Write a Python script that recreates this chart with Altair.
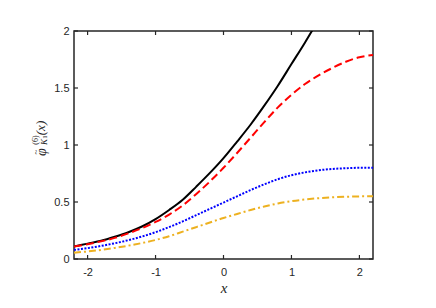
import altair as alt
import pandas as pd

# x sample points
xs = [-2.2, -2.0, -1.8, -1.6, -1.4, -1.2, -1.0, -0.8, -0.6, -0.4, -0.2, 0.0,
      0.2, 0.4, 0.6, 0.8, 1.0, 1.2, 1.4, 1.6, 1.8, 2.0, 2.2]
# series values
black = [0.11, 0.135, 0.16, 0.195, 0.235, 0.285, 0.35, 0.43, 0.52, 0.635, 0.755, 0.885,
         1.03, 1.18, 1.345, 1.52, 1.71, 1.90, 2.10, 2.30, 2.50, 2.70, 2.90]
red = [0.11, 0.13, 0.155, 0.185, 0.225, 0.27, 0.325, 0.39, 0.47, 0.57, 0.68, 0.80,
       0.93, 1.065, 1.20, 1.33, 1.44, 1.535, 1.61, 1.675, 1.73, 1.77, 1.79]
blue = [0.08, 0.095, 0.115, 0.138, 0.165, 0.197, 0.235, 0.28, 0.33, 0.385, 0.44, 0.495,
        0.55, 0.605, 0.655, 0.70, 0.735, 0.76, 0.778, 0.79, 0.796, 0.80, 0.80]
orange = [0.055, 0.066, 0.08, 0.097, 0.117, 0.14, 0.167, 0.20, 0.24, 0.28, 0.32, 0.36,
          0.395, 0.43, 0.46, 0.487, 0.507, 0.522, 0.533, 0.541, 0.546, 0.549, 0.55]

xticks = [-2, -1, 0, 1, 2]
yticks = [0, 0.5, 1, 1.5, 2]

W, H = 299, 228
AX = "#262626"
SERIF = "Liberation Serif"

series = [
    ("black", black, "#000000", []),
    ("red", red, "#FF0000", [8, 4]),
    ("blue", blue, "#0000FF", [2, 1.5]),
    ("orange", orange, "#EDB120", [7, 3, 2, 3]),
]

xscale = alt.Scale(domain=[-2.2, 2.2], nice=False, zero=False)
yscale = alt.Scale(domain=[0, 2], nice=False, zero=False)

xaxis = alt.Axis(values=xticks, labelExpr="'' + datum.value", title="x",
                 titleFont=SERIF, titleFontStyle="italic", titleFontWeight="normal",
                 titleFontSize=15, titlePadding=3, labelPadding=7,
                 domain=False, ticks=False, grid=False)
yaxis = alt.Axis(values=yticks, labelExpr="'' + datum.value", title="",
                 labelPadding=5, domain=False, ticks=False, grid=False)

X = lambda f: alt.X(f, scale=xscale, axis=xaxis)
Y = lambda f: alt.Y(f, scale=yscale, axis=yaxis)

layers = []
for name, vals, col, dash in series:
    df = pd.DataFrame({"x": xs, "y": vals})
    kw = dict(color=col, strokeWidth=2, clip=True, interpolate="monotone")
    if dash:
        kw["strokeDash"] = dash
    layers.append(alt.Chart(df).mark_line(**kw).encode(x=X("x:Q"), y=Y("y:Q")))

xt = pd.DataFrame({"t": xticks})
yt = pd.DataFrame({"t": yticks})
tick_kw = dict(color=AX, strokeWidth=1.2)
layers.append(alt.Chart(xt).mark_rule(**tick_kw).encode(
    x=X("t:Q"), y=alt.value(H), y2=alt.value(H - 4)))
layers.append(alt.Chart(xt).mark_rule(**tick_kw).encode(
    x=X("t:Q"), y=alt.value(0), y2=alt.value(4)))
layers.append(alt.Chart(yt).mark_rule(**tick_kw).encode(
    y=Y("t:Q"), x=alt.value(0), x2=alt.value(4)))
layers.append(alt.Chart(yt).mark_rule(**tick_kw).encode(
    y=Y("t:Q"), x=alt.value(W), x2=alt.value(W - 4)))

# y axis title pieces (rotated)
one = pd.DataFrame({"a": [0]})
def lab(txt, x, y, size, style="italic"):
    return alt.Chart(one).mark_text(angle=270, align="center", baseline="middle",
                                    font=SERIF, fontStyle=style,
                                    fontSize=size, color=AX).encode(
        x=alt.value(x), y=alt.value(y), text=alt.value(txt))

layers.append(lab("φ", -32, 121, 14))
layers.append(lab("~", -38, 121, 9, "normal"))
layers.append(lab("(6)", -38, 109, 8, "normal"))
layers.append(lab("K", -30, 111, 9))
layers.append(lab("1", -29, 106, 7, "normal"))
layers.append(lab("(x)", -33, 97, 13))

chart = alt.layer(*layers).properties(
    width=W, height=H,
    autosize=alt.AutoSizeParams(type="none"),
    padding={"left": 66, "top": 23, "right": 40, "bottom": 40},
).configure_view(stroke=AX, strokeWidth=1.5).configure_axis(
    labelFont="Liberation Sans", labelFontSize=11, labelColor=AX,
    titleColor=AX,
)

chart.save("out.html", embed_options={"renderer": "svg", "actions": False})
